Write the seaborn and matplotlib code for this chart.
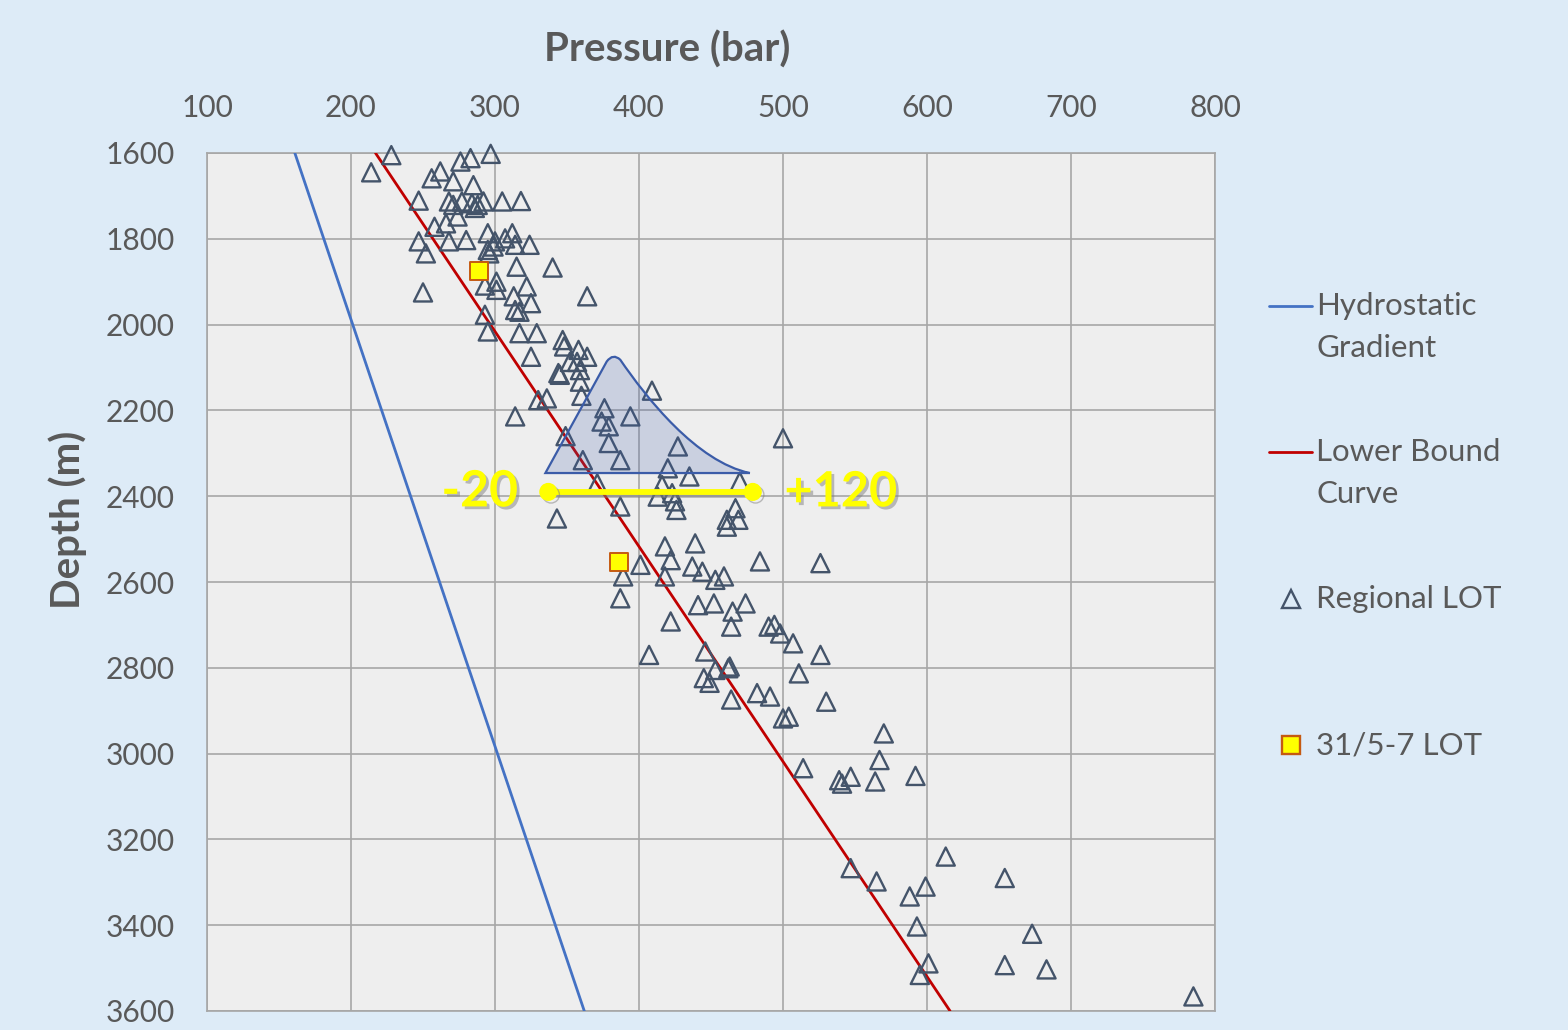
import pandas as pd
import matplotlib
matplotlib.use("Agg")
import matplotlib.pyplot as plt
import matplotlib.patheffects as pe
from matplotlib.path import Path
from matplotlib.patches import PathPatch
from matplotlib.lines import Line2D
import seaborn as sns

# regional leak-off tests (pressure in bar, depth in m)
lot_pressure = [228, 214, 276, 283, 297, 262, 256, 271, 285, 247,
                268, 271, 277, 284, 288, 292, 286, 305, 318, 274,
                266, 258, 247, 252, 268, 280, 295, 300, 307, 312,
                314, 324, 295, 296, 299, 315, 340, 250, 301, 293,
                301, 313, 322, 325, 314, 317, 364, 293, 295, 317,
                329, 347, 325, 348, 358, 364, 352, 357, 344, 345,
                359, 359, 360, 330, 336, 314, 409, 376, 394, 374,
                379, 379, 349, 361, 387, 427, 420, 435, 470, 500,
                371, 416, 413, 423, 425, 426, 387, 343, 467, 469,
                461, 461, 401, 389, 387, 418, 422, 418, 439, 437,
                444, 453, 459, 484, 526, 441, 452, 465, 474, 464,
                422, 490, 494, 498, 507, 526, 407, 446, 453, 462,
                463, 445, 449, 511, 464, 482, 491, 530, 500, 504,
                570, 567, 514, 539, 541, 547, 564, 592, 613, 547,
                565, 588, 599, 654, 593, 673, 601, 595, 654, 683,
                785]
lot_depth = [1605, 1645, 1620, 1612, 1602, 1643, 1659, 1666, 1675, 1711,
             1713, 1721, 1713, 1717, 1721, 1713, 1728, 1713, 1712, 1748,
             1764, 1772, 1806, 1834, 1806, 1803, 1787, 1806, 1799, 1787,
             1814, 1814, 1826, 1834, 1818, 1865, 1867, 1925, 1900, 1909,
             1919, 1934, 1911, 1950, 1966, 1970, 1934, 1977, 2016, 2020,
             2020, 2036, 2075, 2051, 2059, 2075, 2087, 2087, 2113, 2117,
             2106, 2133, 2166, 2176, 2172, 2214, 2154, 2195, 2214, 2226,
             2237, 2276, 2260, 2316, 2316, 2284, 2335, 2354, 2366, 2265,
             2370, 2374, 2401, 2393, 2412, 2432, 2424, 2452, 2428, 2455,
             2455, 2471, 2560, 2587, 2638, 2517, 2549, 2587, 2510, 2564,
             2576, 2595, 2587, 2552, 2556, 2654, 2650, 2669, 2650, 2704,
             2692, 2704, 2700, 2720, 2743, 2770, 2770, 2762, 2805, 2801,
             2797, 2824, 2835, 2813, 2874, 2859, 2867, 2879, 2918, 2914,
             2953, 3015, 3034, 3062, 3070, 3054, 3065, 3052, 3240, 3267,
             3298, 3333, 3310, 3290, 3403, 3420, 3489, 3516, 3493, 3503,
             3566]

# 31/5-7 well
well_pressure = [289, 386]
well_depth = [1875, 2553]

hydro_pressure = [161, 362]
hydro_depth = [1600, 3600]
lower_pressure = [217, 616]
lower_depth = [1600, 3600]

pressure_ticks = [100, 200, 300, 400, 500, 600, 700, 800]
depth_ticks = [1600, 1800, 2000, 2200, 2400, 2600, 2800, 3000, 3200, 3400, 3600]

# yellow range bar
range_pressure = [337, 479]
range_depth = [2390, 2390]
range_labels = ["-20", "+120"]

# outline of the shaded peak: vertices and bezier control points
peak_pressure = [335, 377.6, 382, 387, 405, 440, 477, 335]
peak_depth = [2346, 2086, 2066, 2082, 2170, 2320, 2346, 2346]

legend_labels = [["Hydrostatic", "Gradient"], ["Lower Bound", "Curve"],
                 ["Regional LOT"], ["31/5-7 LOT"]]

W, H = 1568, 1030
grey_txt = "#595959"

sns.set_theme(style="whitegrid")
plt.rcParams["font.family"] = ["Lato", "DejaVu Sans"]

fig = plt.figure(figsize=(W / 100, H / 100), dpi=100, facecolor="#DDEBF7")
ax = fig.add_axes([207 / W, 1 - 1011 / H, (1215 - 207) / W, (1011 - 153) / H])
ax.set_facecolor("#EEEEEE")

sns.lineplot(x=hydro_pressure, y=hydro_depth, sort=False, estimator=None,
             color="#4472C4", lw=2, ax=ax, zorder=3)
sns.lineplot(x=lower_pressure, y=lower_depth, sort=False, estimator=None,
             color="#C00000", lw=2, ax=ax, zorder=3)

lot = pd.DataFrame({"Pressure": lot_pressure, "Depth": lot_depth})
sns.scatterplot(data=lot, x="Pressure", y="Depth", marker="^", s=170,
                facecolor="none", edgecolor="#44546A", linewidth=1.7,
                ax=ax, zorder=4, clip_on=False)
well = pd.DataFrame({"Pressure": well_pressure, "Depth": well_depth})
sns.scatterplot(data=well, x="Pressure", y="Depth", marker="s", s=165,
                facecolor="#FFFF00", edgecolor="#C55A11", linewidth=1.4,
                ax=ax, zorder=5)

codes = [Path.MOVETO, Path.LINETO, Path.CURVE3, Path.CURVE3,
         Path.CURVE4, Path.CURVE4, Path.CURVE4, Path.CLOSEPOLY]
peak = Path(list(zip(peak_pressure, peak_depth)), codes)
ax.add_patch(PathPatch(peak, facecolor=(0.23, 0.36, 0.66, 0.2),
                       edgecolor="#3B5CA8", lw=1.6, zorder=5))

shadow = [pe.SimpleLineShadow(offset=(2, -2), shadow_color="#808080", alpha=0.5), pe.Normal()]
ax.plot(range_pressure, range_depth, color="#FFFF00", lw=4.2, marker="o",
        ms=12, zorder=6, path_effects=shadow)
txt_shadow = [pe.SimplePatchShadow(offset=(2, -2), shadow_rgbFace="#808080", alpha=0.5), pe.Normal()]
ax.text(range_pressure[0] - 21, range_depth[0], range_labels[0], ha="right", va="center",
        fontsize=36, fontweight="bold", color="#FFFF00", zorder=6, path_effects=txt_shadow)
ax.text(range_pressure[1] + 22, range_depth[1], range_labels[1], ha="left", va="center",
        fontsize=35, fontweight="bold", color="#FFFF00", zorder=6, path_effects=txt_shadow)

ax.set_xlim(100, 800)
ax.set_ylim(3600, 1600)
ax.xaxis.tick_top()
ax.set_xticks(pressure_ticks)
ax.set_yticks(depth_ticks)
ax.set_xlabel("")
ax.set_ylabel("")
ax.tick_params(axis="x", length=0, labelsize=21.5, colors=grey_txt, pad=22)
ax.tick_params(axis="y", length=0, labelsize=21.5, colors=grey_txt, pad=23)
ax.grid(True, color="#A6A6A6", lw=1.2)
for sp in ax.spines.values():
    sp.set_visible(True)
    sp.set_color("#A6A6A6")
    sp.set_linewidth(1.2)

fig.text(667 / W, 1 - 50 / H, "Pressure (bar)", ha="center", va="center",
         fontsize=29, fontweight="bold", color=grey_txt)
fig.text(68 / W, 1 - 520 / H, "Depth (m)", ha="center", va="center", rotation=90,
         fontsize=29, fontweight="bold", color=grey_txt)

# legend, drawn by hand to keep the Excel layout
def fy(y):
    return 1 - y / H

handles = [dict(color="#4472C4", line=True), dict(color="#C00000", line=True),
           dict(marker="^", fc="none", ec="#44546A"),
           dict(marker="s", fc="#FFFF00", ec="#C55A11")]
rows = [306, 452, 599, 745]
for h, y0, lines in zip(handles, rows, legend_labels):
    if h.get("line"):
        fig.add_artist(Line2D([1269 / W, 1312 / W], [fy(y0), fy(y0)], color=h["color"],
                              lw=2, transform=fig.transFigure))
    else:
        fig.add_artist(Line2D([1291 / W], [fy(y0)], marker=h["marker"], ms=12.5, mfc=h["fc"],
                              mec=h["ec"], mew=1.7, ls="none", transform=fig.transFigure))
    for i, line in enumerate(lines):
        fig.text(1316 / W, fy(y0 + 42 * i), line, ha="left", va="center",
                 fontsize=22.5, color=grey_txt)

fig.savefig("out.png", dpi=100, facecolor=fig.get_facecolor())
